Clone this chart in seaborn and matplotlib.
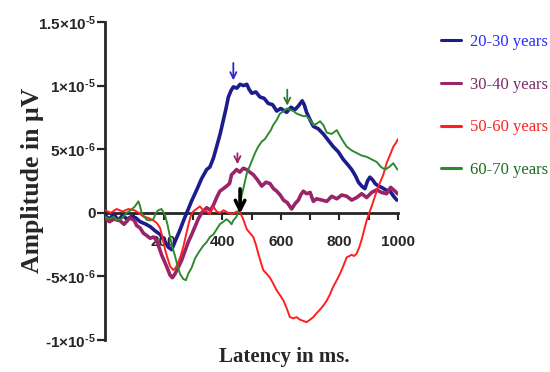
import numpy as np
import pandas as pd
import matplotlib
matplotlib.use("Agg")
import matplotlib.pyplot as plt
import seaborn as sns
from matplotlib import font_manager
from matplotlib.ticker import MultipleLocator, FixedLocator

# latency (ms) and amplitude (x1e-6 V)
blue_x = [0, 15, 30, 45, 60, 75, 90, 105, 120, 140, 155, 170, 188, 200, 216, 228, 240, 255, 270, 279,
          295, 313, 330, 347, 358, 370, 381, 393, 404, 413, 421, 430, 438, 450, 461, 473, 484, 492, 501,
          515, 529, 543, 557, 572, 586, 600, 620, 635, 648, 660, 673, 680, 688, 700, 711, 728, 745, 762,
          779, 796, 813, 828, 842, 855, 865, 876, 887, 896, 904, 913, 922, 933, 944, 958, 973, 985, 996]
blue_y = [-0.2, -0.5, -0.1, -0.6, -0.2, -0.5, -0.3, -0.4, -0.7, -0.9, -1.1, -1.4, -1.7, -2.1, -2.7, -2.9,
          -2.2, -1.4, -0.5, 0.0, 0.9, 1.8, 2.7, 3.4, 3.6, 4.3, 5.2, 6.2, 7.3, 8.2, 9.1, 9.6, 9.9, 9.8,
          10.1, 10.0, 10.1, 9.7, 9.4, 9.5, 9.1, 9.0, 8.6, 8.5, 8.0, 8.2, 7.9, 8.3, 8.1, 8.4, 8.8, 8.5,
          7.9, 7.3, 6.8, 6.6, 6.2, 5.7, 5.2, 4.8, 4.2, 3.8, 3.4, 2.9, 2.4, 2.1, 1.9, 2.5, 2.8, 2.6, 2.3,
          2.1, 2.0, 1.8, 1.7, 1.3, 1.0]

purple_x = [0, 15, 30, 50, 65, 85, 100, 108, 120, 131, 143, 154, 166, 177, 193, 210, 222, 230, 239, 250,
            262, 273, 284, 296, 307, 318, 330, 347, 360, 370, 381, 392, 404, 415, 425, 432, 441, 449, 460,
            472, 483, 494, 506, 520, 535, 549, 563, 575, 586, 598, 609, 622, 637, 648, 660, 668, 677, 688,
            700, 711, 722, 740, 757, 774, 791, 808, 825, 842, 859, 876, 893, 910, 927, 944, 961, 975, 990, 998]
purple_y = [-0.4, -0.7, -0.5, -0.6, -0.9, -0.4, -0.6, -1.0, -1.2, -1.6, -1.8, -2.0, -1.9, -2.2, -3.3, -4.2,
            -4.9, -5.1, -4.8, -4.3, -3.7, -3.0, -2.3, -1.7, -1.1, -0.5, 0.0, 0.4, 0.2, 0.6, 1.2, 1.7, 1.9,
            2.1, 2.3, 3.0, 3.2, 3.4, 3.2, 3.5, 3.4, 3.2, 3.0, 2.6, 2.1, 2.4, 2.3, 1.9, 1.7, 1.4, 1.0, 0.8,
            0.3, 0.7, 1.0, 1.4, 1.7, 1.5, 1.6, 0.9, 1.1, 1.0, 0.9, 1.3, 1.1, 1.4, 1.3, 1.0, 1.2, 1.5, 1.2,
            1.6, 1.8, 1.6, 1.5, 2.0, 1.7, 1.5]

red_x = [0, 20, 40, 60, 80, 100, 115, 131, 148, 165, 177, 188, 196, 205, 214, 222, 233, 242, 250, 258,
         267, 276, 284, 292, 301, 312, 324, 335, 347, 358, 370, 381, 392, 405, 420, 435, 450, 461, 470,
         484, 495, 506, 515, 523, 532, 540, 552, 563, 575, 586, 598, 609, 620, 631, 643, 654, 665, 677,
         688, 700, 711, 722, 734, 745, 757, 768, 779, 791, 802, 813, 825, 834, 842, 850, 859, 868, 876,
         885, 893, 902, 910, 920, 930, 939, 950, 961, 972, 984, 993, 1000]
red_y = [0.2, 0.0, 0.3, 0.1, 0.3, 0.2, 0.0, -0.3, -0.4, -0.6, -0.8, -1.2, -1.9, -2.9, -3.6, -4.2, -4.5,
         -4.3, -3.9, -3.4, -2.7, -1.8, -1.0, -0.3, 0.1, 0.3, 0.5, 0.2, 0.1, -0.1, 0.5, 0.1, 0.0, 0.2, 0.0,
         -0.1, 0.1, 0.0, -0.4, -1.3, -1.6, -1.9, -2.5, -3.2, -3.9, -4.5, -4.8, -5.1, -5.6, -6.1, -6.5,
         -6.9, -7.5, -8.2, -8.3, -8.2, -8.4, -8.5, -8.6, -8.4, -8.2, -7.9, -7.6, -7.3, -6.9, -6.4, -5.8,
         -5.3, -4.8, -4.2, -3.5, -3.4, -3.3, -3.4, -3.2, -2.7, -2.1, -1.3, -0.6, 0.0, 0.5, 1.2, 1.9, 2.4,
         3.0, 3.9, 4.5, 5.2, 5.5, 5.8]

green_x = [0, 15, 30, 40, 55, 74, 88, 102, 108, 114, 120, 125, 134, 142, 155, 165, 174, 182, 193, 205,
           213, 222, 230, 239, 248, 256, 267, 276, 284, 296, 307, 320, 335, 347, 358, 370, 381, 392, 404,
           415, 425, 432, 438, 449, 458, 466, 475, 484, 498, 512, 523, 535, 546, 557, 566, 574, 586, 597,
           610, 621, 631, 643, 654, 665, 677, 688, 700, 711, 722, 734, 745, 757, 774, 791, 808, 825, 842,
           859, 876, 893, 910, 927, 942, 956, 970, 984, 998]
green_y = [-0.3, -0.5, -0.3, -0.6, -0.5, 0.0, 0.2, 0.5, 0.7, 0.9, 0.5, 0.0, -0.3, -0.55, -0.6, -0.5, 0.0,
           0.2, 0.3, -0.2, -0.9, -1.9, -2.7, -3.4, -4.2, -4.8, -5.2, -5.3, -4.8, -4.3, -3.6, -3.1, -2.6,
           -2.3, -1.9, -1.7, -1.3, -0.9, -0.7, -0.5, -0.7, -0.9, -0.6, -0.3, 0.3, 1.3, 2.2, 3.1, 3.9, 4.7,
           5.2, 5.6, 5.8, 6.2, 6.5, 6.9, 7.3, 7.8, 8.0, 8.2, 8.1, 8.0, 7.8, 7.7, 7.6, 7.6, 7.3, 6.9, 7.0,
           7.2, 6.9, 6.3, 6.2, 6.5, 5.8, 5.2, 4.9, 4.7, 4.5, 4.4, 4.2, 4.0, 3.6, 3.4, 3.6, 3.9, 3.4]

groups = ["20-30 years", "30-40 years", "50-60 years", "60-70 years"]
line_colors = ["#1c1c8e", "#9a2468", "#ff1f1f", "#2f8a2f"]
text_colors = ["#2a2aff", "#7b2a6b", "#ff2020", "#1e6b1e"]
line_widths = [2.6, 2.6, 1.4, 1.4]

# arrows marking peaks: (latency, start, end) amplitude x1e-6
arrows = [(438, 12.0, 10.2, "#2a2ad0"), (622, 9.9, 8.2, "#2f7a2f"), (452, 4.9, 3.6, "#9a2468")]

H = "\u2010"  # short hyphen, like the original labels
yticks = [-1e-5, -5e-6, 0, 5e-6, 1e-5, 1.5e-5]
ytick_labels = ["$" + H + "1{\\times}10^{" + H + "5}$",
                "$" + H + "5{\\times}10^{" + H + "6}$",
                "0",
                "$5{\\times}10^{" + H + "6}$",
                "$1{\\times}10^{" + H + "5}$",
                "$1.5{\\times}10^{" + H + "5}$"]
xticks = [200, 400, 600, 800, 1000]

sns.set_style("ticks")
names = {f.name for f in font_manager.fontManager.ttflist}
tick_font = "Liberation Sans Narrow" if "Liberation Sans Narrow" in names else "Liberation Sans"
tick_size = 13 if tick_font == "Liberation Sans Narrow" else 11
plt.rcParams["font.family"] = ["Liberation Serif", "DejaVu Serif"]
plt.rcParams["mathtext.fontset"] = "custom"
plt.rcParams["mathtext.rm"] = tick_font + ":bold"
plt.rcParams["mathtext.it"] = tick_font + ":bold"
plt.rcParams["mathtext.bf"] = tick_font + ":bold"
plt.rcParams["mathtext.default"] = "rm"

series = [(blue_x, blue_y), (purple_x, purple_y), (red_x, red_y), (green_x, green_y)]
frames = []
for g, (xs, ys) in zip(groups, series):
    frames.append(pd.DataFrame({"latency": xs, "amp": np.array(ys) * 1e-6, "group": g}))
df = pd.concat(frames)

fig = plt.figure(figsize=(5.5, 3.72), dpi=100)
ax = fig.add_axes([105 / 550, 32 / 372, 293 / 550, 318 / 372])

for g, c, lw in zip(groups, line_colors, line_widths):
    sub = df[df["group"] == g]
    sns.lineplot(data=sub, x="latency", y="amp", color=c, lw=lw, label=g, ax=ax,
                 estimator=None, sort=False)

for x, y0, y1, c in arrows:
    ax.annotate("", xy=(x, y1 * 1e-6), xytext=(x, y0 * 1e-6),
                arrowprops=dict(arrowstyle="->", color=c, lw=1.3, mutation_scale=11))
ax.annotate("", xy=(461, -0.3e-6), xytext=(461, 2.1e-6),
            arrowprops=dict(arrowstyle="->", color="black", lw=2.6, mutation_scale=17), zorder=10)

ax.set_xlim(0, 1000)
ax.set_ylim(-1e-5, 1.5e-5)
sns.despine(ax=ax)
ax.spines["bottom"].set_position(("data", 0))
for s in ["left", "bottom"]:
    ax.spines[s].set_linewidth(2.0)
    ax.spines[s].set_zorder(1)

ax.xaxis.set_major_locator(FixedLocator(xticks))
ax.xaxis.set_minor_locator(MultipleLocator(100))
ax.set_yticks(yticks)
ax.set_yticklabels(ytick_labels)
ax.tick_params(axis="y", length=6, width=1.6, pad=0.5)
ax.tick_params(axis="x", which="both", length=5, width=1.5, pad=11)
for lab in ax.get_xticklabels() + ax.get_yticklabels():
    lab.set_fontfamily(tick_font)
    lab.set_fontweight("bold")
    lab.set_fontsize(tick_size)

ax.set_xlabel("Latency in ms.", fontsize=15, fontweight="bold")
ax.set_ylabel("Amplitude in \u03bcV", fontsize=18.5, fontweight="bold")
ax.xaxis.label.set_va("center")
ax.yaxis.label.set_va("center")
ax.xaxis.set_label_coords((284 - 105) / 293, (340 - 357) / 318)
ax.yaxis.set_label_coords((33 - 105) / 293, (340 - 180) / 318)

leg = ax.legend(loc="upper left", bbox_to_anchor=(441 / 550, 1 - 34 / 372),
                bbox_transform=fig.transFigure, frameon=False, fontsize=12,
                handlelength=1.2, handletextpad=0.55, labelspacing=1.6,
                borderpad=0, borderaxespad=0)
for t, c in zip(leg.get_texts(), text_colors):
    t.set_color(c)
for h in leg.get_lines():
    h.set_linewidth(2.2)

fig.savefig("out.png", dpi=100)
